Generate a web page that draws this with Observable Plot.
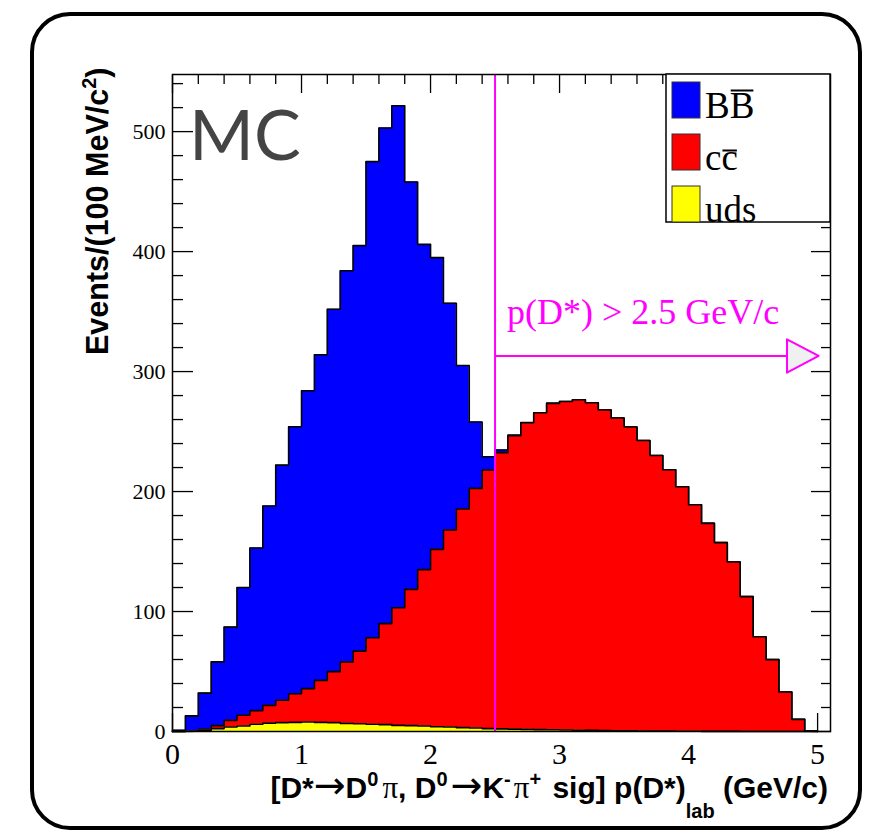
<!DOCTYPE html>
<html>
<head>
<meta charset="utf-8">
<script src="https://cdn.jsdelivr.net/npm/d3@7"></script>
<script src="https://cdn.jsdelivr.net/npm/@observablehq/plot@0.6"></script>
<style>
  html, body { margin: 0; padding: 0; background: #fff; }
  #page { position: relative; width: 873px; height: 838px; overflow: hidden; }
  #border { position: absolute; left: 30px; top: 12px; width: 832px; height: 818px;
            box-sizing: border-box; border: 4px solid #000; border-radius: 40px; }
  #chart { position: absolute; left: 0; top: 0; }
</style>
</head>
<body>
<div id="page"><div id="border"></div><div id="chart"></div></div>
<script>
// p(D*) lab momentum, 50 bins of 100 MeV/c from 0 to 5 GeV/c (low edges)
const binLow = [0.0, 0.1, 0.2, 0.3, 0.4, 0.5, 0.6, 0.7, 0.8, 0.9,
                1.0, 1.1, 1.2, 1.3, 1.4, 1.5, 1.6, 1.7, 1.8, 1.9,
                2.0, 2.1, 2.2, 2.3, 2.4, 2.5, 2.6, 2.7, 2.8, 2.9,
                3.0, 3.1, 3.2, 3.3, 3.4, 3.5, 3.6, 3.7, 3.8, 3.9,
                4.0, 4.1, 4.2, 4.3, 4.4, 4.5, 4.6, 4.7, 4.8, 4.9];
const binWidth = 0.1;

// Events per bin for each MC sample
const bbbar = [1.0, 12.7, 30.2, 53.1, 77.7, 106.5, 135.6, 166.2, 196.0, 222.5,
               248.3, 271.4, 302.1, 326.1, 338.0, 396.8, 413.1, 418.3, 339.5, 271.1,
               243.2, 189.0, 119.6, 55.4, 11.1, 2.2, 0.5, 0.3, 0, 0,
               0, 0, 0, 0, 0, 0, 0, 0, 0, 0,
               0, 0, 0, 0, 0, 0, 0, 0, 0, 0];
const ccbar = [0, 0.1, 0.8, 2.5, 5.6, 8.9, 11.4, 14.8, 18.6, 23.9,
               27.8, 35.0, 42.5, 51.1, 60.5, 72.2, 84.2, 98.1, 113.6, 130.3,
               147.8, 164.3, 182.2, 199.7, 215.5, 230.2, 244.5, 255.5, 264.1, 272.1,
               273.9, 275.5, 273.1, 267.2, 260.7, 253.3, 242.2, 229.8, 217.9, 203.8,
               188.8, 173.4, 157.3, 141.2, 112.4, 79.0, 59.9, 32.9, 10.1, 0.3];
const uds   = [0, 0.2, 1.0, 2.4, 3.7, 4.6, 6.0, 7.0, 7.4, 7.6,
               7.9, 7.6, 7.4, 6.8, 6.5, 6.0, 5.7, 5.1, 4.9, 4.6,
               4.0, 3.7, 3.2, 2.9, 2.4, 2.2, 2.0, 1.8, 1.6, 1.4,
               1.2, 1.0, 0.9, 0.8, 0.6, 0.5, 0.4, 0.3, 0.3, 0.2,
               0.2, 0.1, 0.1, 0.1, 0, 0, 0, 0, 0, 0];

// Axis ticks
const xTicks = [0, 1, 2, 3, 4, 5];
const xMinorTicks = [0.2, 0.4, 0.6, 0.8, 1.2, 1.4, 1.6, 1.8, 2.2, 2.4, 2.6, 2.8,
                     3.2, 3.4, 3.6, 3.8, 4.2, 4.4, 4.6, 4.8];
const yTicks = [0, 100, 200, 300, 400, 500];
const yMinorTicks = [20, 40, 60, 80, 120, 140, 160, 180, 220, 240, 260, 280,
                     320, 340, 360, 380, 420, 440, 460, 480, 520, 540];

// Legend entries: [main text, overlined part, colour]
const legendEntries = [["B", "B", "#0000ff"], ["c", "c", "#ff0000"], ["uds", "", "#ffff00"]];

// Momentum cut annotation
const cut = 2.5;
const cutLabel = "p(D*) > 2.5 GeV/c";
const arrowLevel = 313;
const arrowHead = {base: 4.763, tip: 5.008, half: 13.9};

const magenta = "#ff00ff";

// Stacked levels: uds at the bottom, then cc̄, then BB̄ on top
const lvlUds = uds;
const lvlCc = uds.map((v, i) => v + ccbar[i]);
const lvlAll = lvlCc.map((v, i) => v + bbbar[i]);

// Step outline points for a histogram (closed down to zero at both ends)
function histPoints(vals) {
  const pts = [{x: binLow[0], y: 0}];
  binLow.forEach((x, i) => pts.push({x, y: vals[i]}));
  const last = binLow[binLow.length - 1] + binWidth;
  pts.push({x: last, y: vals[vals.length - 1]});
  pts.push({x: last, y: 0});
  return pts;
}

function histMarks(vals, fill) {
  const pts = histPoints(vals);
  return [
    Plot.areaY(pts, {x: "x", y1: 0, y2: "y", curve: "step-after", fill}),
    Plot.lineY(pts, {x: "x", y: "y", curve: "step-after", stroke: "black", strokeWidth: 1.6})
  ];
}

const tri = [
  {x: arrowHead.base, y: arrowLevel - arrowHead.half},
  {x: arrowHead.tip, y: arrowLevel},
  {x: arrowHead.base, y: arrowLevel + arrowHead.half},
  {x: arrowHead.base, y: arrowLevel - arrowHead.half}
];

const serif = "'Liberation Serif', 'Times New Roman', serif";
const sans = "'Liberation Sans', Arial, Helvetica, sans-serif";

const plot = Plot.plot({
  width: 873,
  height: 838,
  marginLeft: 172,
  marginRight: 43,
  marginTop: 74,
  marginBottom: 107,
  x: {domain: [0, 5.1]},
  y: {domain: [0, 547.6]},
  style: {fontFamily: serif, background: "transparent", color: "black", overflow: "visible"},
  marks: [
    // inward tick marks on all four sides
    Plot.axisX(xMinorTicks, {anchor: "bottom", tickSize: -9, fill: "none", strokeWidth: 1.3}),
    Plot.axisX(xTicks, {anchor: "bottom", tickSize: -18, fill: "none", strokeWidth: 1.3}),
    Plot.axisX(xMinorTicks, {anchor: "top", tickSize: -9, fill: "none", strokeWidth: 1.3}),
    Plot.axisX(xTicks, {anchor: "top", tickSize: -18, fill: "none", strokeWidth: 1.3}),
    Plot.axisY(yMinorTicks, {anchor: "left", tickSize: -11, fill: "none", strokeWidth: 1.3}),
    Plot.axisY(yTicks, {anchor: "left", tickSize: -21, fill: "none", strokeWidth: 1.3}),
    Plot.axisY(yMinorTicks, {anchor: "right", tickSize: -10, fill: "none", strokeWidth: 1.3}),
    Plot.axisY(yTicks, {anchor: "right", tickSize: -20, fill: "none", strokeWidth: 1.3}),
    // tick labels
    Plot.axisX(xTicks, {anchor: "bottom", tickSize: 0, stroke: "none", tickPadding: 11,
                        tickFormat: d => String(d), fontSize: 30, fontFamily: serif, label: null}),
    Plot.axisY(yTicks, {anchor: "left", tickSize: 0, stroke: "none", tickPadding: 7,
                        tickFormat: d => String(d), fontSize: 22, fontFamily: serif, label: null}),
    // stacked histograms
    ...histMarks(lvlAll, "#0000ff"),
    ...histMarks(lvlCc, "#ff0000"),
    ...histMarks(lvlUds, "#ffff00"),
    // momentum cut
    Plot.ruleX([cut], {stroke: magenta, strokeWidth: 2}),
    Plot.ruleY([arrowLevel], {x1: cut, x2: arrowHead.base, stroke: magenta, strokeWidth: 2}),
    Plot.line(tri, {x: "x", y: "y", fill: "#f0f0f0", stroke: magenta, strokeWidth: 2}),
    Plot.text([cutLabel], {x: cut, y: 340, text: d => d, textAnchor: "start", lineAnchor: "bottom",
                           dx: 12, fontSize: 36, fontFamily: serif, fill: magenta}),
    Plot.frame({stroke: "black", strokeWidth: 1.5})
  ]
});

document.getElementById("chart").append(plot);
const svg = d3.select(plot);

// "MC" tag
svg.append("text")
  .attr("x", 189).attr("y", 160)
  .attr("text-anchor", "start")
  .attr("font-family", "Lato, 'Noto Sans', sans-serif")
  .attr("font-size", 70)
  .attr("fill", "#444")
  .text("MC");

// Legend
const lg = svg.append("g").attr("text-anchor", "start");
lg.append("rect").attr("x", 666).attr("y", 74).attr("width", 164).attr("height", 148)
  .attr("fill", "white").attr("stroke", "black").attr("stroke-width", 1.5);
legendEntries.forEach(([main, barred, color], i) => {
  const top = 82 + 52 * i;
  lg.append("rect").attr("x", 672).attr("y", top).attr("width", 28).attr("height", 36)
    .attr("fill", color).attr("stroke", "#333").attr("stroke-width", 1);
  const baseline = top + 36;
  const t = lg.append("text").attr("x", 705).attr("y", baseline)
    .attr("font-family", serif).attr("font-size", 37).attr("fill", "black");
  t.append("tspan").text(main);
  if (barred) {
    t.append("tspan").text(barred);
    const ext = t.node().getExtentOfChar(main.length);
    const isCap = barred === barred.toUpperCase();
    const by = baseline - (isCap ? 27.5 : 19.5);
    lg.append("line")
      .attr("x1", ext.x + 1).attr("x2", ext.x + ext.width - 1)
      .attr("y1", by).attr("y2", by)
      .attr("stroke", "black").attr("stroke-width", 2);
  }
});

// y-axis title
const yt = svg.append("text")
  .attr("transform", "translate(108,355) rotate(-90)")
  .attr("text-anchor", "start")
  .attr("font-family", sans).attr("font-weight", "bold").attr("font-size", 30.5);
yt.append("tspan").text("Events/(100 MeV/c");
yt.append("tspan").attr("dy", -12).attr("font-size", 20).text("2");
yt.append("tspan").attr("dy", 12).text(")");

// x-axis title
const xt = svg.append("text")
  .attr("x", 828).attr("y", 798)
  .attr("text-anchor", "end")
  .attr("font-family", sans).attr("font-weight", "bold").attr("font-size", 30);
const arrow = (sel) => sel.append("tspan").attr("font-family", "'DejaVu Sans', sans-serif")
  .attr("font-weight", "normal").attr("font-size", 38).text("\u2192");
const pi = (sel) => sel.append("tspan").attr("font-family", serif).attr("font-weight", "normal")
  .attr("font-size", 31).text("\u03c0");
xt.append("tspan").text("[D*");
arrow(xt);
xt.append("tspan").text("D");
xt.append("tspan").attr("dy", -12).attr("font-size", 20).text("0");
pi(xt.append("tspan").attr("dy", 12).attr("dx", 4));
xt.append("tspan").text(", D");
xt.append("tspan").attr("dy", -12).attr("font-size", 20).text("0");
arrow(xt.append("tspan").attr("dy", 12).attr("dx", 3));
xt.append("tspan").text("K");
xt.append("tspan").attr("dy", -12).attr("font-size", 20).text("-");
pi(xt.append("tspan").attr("dy", 12).attr("dx", 3));
xt.append("tspan").attr("dy", -12).attr("font-size", 20).text("+");
xt.append("tspan").attr("dy", 12).attr("dx", 3).text(" sig] p(D*)");
xt.append("tspan").attr("dy", 20).attr("font-size", 20).text("lab");
xt.append("tspan").attr("dy", -20).text(" (GeV/c)");
</script>
</body>
</html>
